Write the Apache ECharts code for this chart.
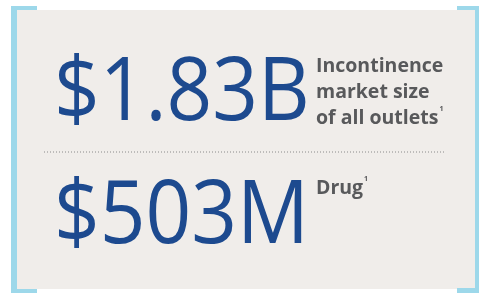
<!DOCTYPE html>
<html>
<head>
<meta charset="utf-8">
<script src="https://cdn.jsdelivr.net/npm/echarts@6/dist/echarts.min.js"></script>
<style>
  html, body { margin: 0; padding: 0; background: #fff; }
  #main { width: 479px; height: 293px; }
</style>
</head>
<body>
<div id="main"></div>
<script>
// figures shown on the card
var values = ['$1.83B', '$503M'];
var captions = [['Incontinence', 'market size', 'of all outlets'], ['Drug']];
var footnotes = ['1', '1'];

var blue = '#1d4a8f';
var grey = '#58595b';
var frame = '#9dd8ea';

var myChart = echarts.init(document.getElementById('main'));

var els = [
    // card background
    { type: 'rect', shape: { x: 17, y: 10, width: 458, height: 279 }, style: { fill: '#f0edea' }, z: 0 },
    // corner brackets
    { type: 'rect', shape: { x: 11, y: 6, width: 6, height: 287 }, style: { fill: frame }, z: 1 },
    { type: 'rect', shape: { x: 11, y: 6, width: 26, height: 4 }, style: { fill: frame }, z: 1 },
    { type: 'rect', shape: { x: 11, y: 289, width: 26, height: 4 }, style: { fill: frame }, z: 1 },
    { type: 'rect', shape: { x: 475, y: 6, width: 4, height: 287 }, style: { fill: frame }, z: 1 },
    { type: 'rect', shape: { x: 457, y: 6, width: 22, height: 4 }, style: { fill: frame }, z: 1 },
    { type: 'rect', shape: { x: 457, y: 288, width: 22, height: 5 }, style: { fill: frame }, z: 1 },
    // dotted divider
    { type: 'line', shape: { x1: 44, y1: 152, x2: 446, y2: 152 }, style: { stroke: '#8a8a8a', lineWidth: 1, lineDash: [1, 2] }, z: 2 }
];

var bigY = [95.5, 218];
var capY = [53, 175];
values.forEach(function (v, i) {
    els.push({
        type: 'text', x: 54, y: bigY[i], scaleX: 0.92, z: 3,
        style: { text: v, fill: blue, font: '87px "Open Sans"', textAlign: 'left', textVerticalAlign: 'middle' }
    });
    var rows = captions[i];
    var txt = rows.map(function (r, k) {
        return k === rows.length - 1 ? '{c|' + r + '}{s|' + footnotes[i] + '}' : '{c|' + r + '}';
    }).join('\n');
    els.push({
        type: 'text', x: 316, y: capY[i], z: 3,
        style: {
            text: txt, textAlign: 'left', textVerticalAlign: 'top',
            rich: {
                c: { fill: grey, font: 'bold 19.5px "Open Sans"', lineHeight: 26 },
                s: { fill: grey, font: 'bold 7px "Open Sans"', lineHeight: 26, verticalAlign: 'top', padding: [0, 0, 0, 1] }
            }
        }
    });
});

myChart.setOption({
    animation: false,
    graphic: { elements: els }
});
</script>
</body>
</html>
